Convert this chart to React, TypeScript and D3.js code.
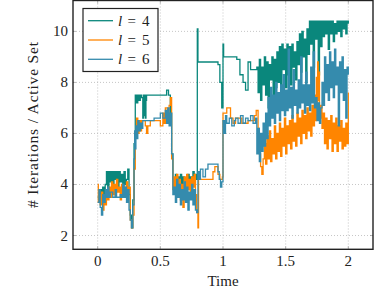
import React from "react";
import * as d3 from "d3";

const xTicks = [0, 0.5, 1, 1.5, 2];
const yTicks = [2, 4, 6, 8, 10];
const seriesNames = ["4", "5", "6"];
const colors = ["#0a877c", "#ff8500", "#358bad"];

const l4: [number, number][] = [
  [0,3.5],[0.01,3.3],[0.02,3.8],[0.03,3.4],[0.04,3.9],[0.05,3.6],[0.06,4.0],[0.07,4.5],[0.08,3.9],[0.09,4.5],[0.1,4.1],[0.11,4.5],[0.12,4.0],[0.13,4.5],[0.14,4.2],[0.15,4.5],[0.16,3.9],[0.17,4.5],[0.18,4.1],[0.19,4.4],[0.2,3.8],[0.21,4.5],[0.22,4.0],[0.23,4.2],[0.24,4.6],[0.25,3.6],[0.26,2.8],[0.27,2.3],[0.28,3.4],[0.29,5.6],[0.3,7.5],[0.31,7.2],[0.32,7.5],[0.33,7.3],[0.34,7.5],[0.35,7.4],[0.36,6.6],[0.365,7.5],[0.37,6.7],[0.375,7.5],[0.38,6.6],[0.385,7.3],[0.39,7.5],[0.55,7.7],[0.565,7.5],[0.58,6.8],[0.59,5.2],[0.6,4.2],
  [0.61,3.9],[0.62,4.4],[0.63,3.8],[0.64,4.3],[0.65,4.0],[0.66,4.4],[0.67,3.9],[0.68,4.3],[0.69,3.7],[0.7,4.2],[0.71,4.0],[0.72,4.4],[0.73,3.8],[0.74,4.3],[0.75,4.1],[0.76,4.5],[0.77,4.0],[0.78,4.4],[0.79,4.2],[0.795,10.1],[0.8,8.8],[0.96,8.7],[0.975,8.0],[0.99,7.0],[1.0,9.5],[1.005,9.0],[1.11,8.9],[1.135,8.3],[1.16,8.0],[1.18,7.7],[1.2,8.8],[1.22,8.5],[1.27,8.6],
  [1.28,7.6],[1.29,8.9],[1.3,7.3],[1.31,8.6],[1.32,7.9],[1.33,9.0],[1.34,7.5],[1.35,8.8],[1.36,7.0],[1.37,8.7],[1.38,8.1],[1.39,9.0],[1.4,7.4],[1.41,8.9],[1.42,7.8],[1.43,9.2],[1.44,8.0],[1.45,9.4],[1.46,7.6],[1.47,9.5],[1.48,8.5],[1.49,9.3],[1.5,7.8],[1.51,9.5],[1.52,8.3],[1.53,9.4],[1.54,7.9],[1.55,9.5],[1.56,8.6],[1.57,9.2],[1.58,8.1],[1.59,9.6],[1.6,8.7],[1.61,9.9],[1.62,8.4],[1.63,10.0],[1.64,9.0],[1.65,9.7],[1.66,8.0],[1.67,10.1],[1.68,9.1],[1.69,10.4],[1.7,9.5],[1.71,10.4],[1.72,8.6],[1.73,10.4],[1.74,9.7],[1.75,10.4],[1.76,8.3],[1.77,10.4],[1.78,9.4],[1.79,10.4],[1.8,9.8],[1.81,10.4],[1.82,9.9],[1.83,10.4],[1.84,9.3],[1.85,10.4],[1.86,9.9],[1.87,10.4],[1.88,9.6],[1.89,10.3],[1.9,9.9],[1.91,10.4],[1.92,10.0],[1.93,10.4],[1.94,9.8],[1.95,10.4],[1.96,10.1],[1.97,10.4],[1.98,9.9],[1.99,10.4],[2.0,10.3],
];

const l5: [number, number][] = [
  [0,4.0],[0.005,3.3],[0.01,3.6],[0.02,3.2],[0.03,3.7],[0.04,3.0],[0.05,3.5],[0.06,3.2],[0.07,3.8],[0.08,3.4],[0.09,3.9],[0.1,3.5],[0.11,4.1],[0.12,3.6],[0.13,4.0],[0.14,3.5],[0.15,4.2],[0.16,3.7],[0.17,3.9],[0.18,3.4],[0.19,4.0],[0.2,3.6],[0.21,3.9],[0.22,3.5],[0.23,4.1],[0.24,3.7],[0.25,3.9],[0.26,2.6],[0.27,2.3],[0.28,2.8],[0.29,4.6],[0.3,6.0],[0.31,6.6],[0.32,6.0],[0.33,6.5],[0.34,6.1],[0.35,6.5],[0.38,6.3],[0.39,6.0],[0.4,6.3],[0.42,6.5],[0.5,6.3],[0.52,6.8],[0.53,6.4],[0.54,7.0],[0.555,6.4],[0.57,7.1],[0.58,7.4],[0.59,5.0],[0.6,3.8],
  [0.61,4.3],[0.62,3.9],[0.63,4.4],[0.64,3.6],[0.65,4.2],[0.66,3.4],[0.67,4.0],[0.68,3.1],[0.69,4.3],[0.7,3.7],[0.71,4.4],[0.72,3.8],[0.73,4.2],[0.74,3.5],[0.75,4.3],[0.76,3.9],[0.77,4.4],[0.78,3.6],[0.79,2.9],[0.8,2.3],[0.805,4.2],[0.92,4.5],[0.935,4.7],[0.96,4.4],[0.975,4.2],[0.995,4.3],[1.0,6.8],[1.03,7.0],[1.06,6.6],[1.08,6.4],[1.1,6.6],[1.15,6.4],[1.2,6.5],[1.25,6.7],[1.265,6.9],[1.28,6.2],[1.29,5.2],[1.3,4.7],[1.31,4.4],[1.32,5.0],
  [1.33,5.6],[1.34,4.8],[1.35,5.9],[1.36,5.0],[1.37,6.1],[1.38,4.9],[1.39,5.8],[1.4,5.2],[1.41,6.3],[1.42,5.0],[1.43,6.0],[1.44,5.3],[1.45,6.4],[1.46,5.1],[1.47,6.2],[1.48,5.5],[1.49,6.6],[1.5,5.2],[1.51,6.3],[1.52,5.6],[1.53,6.5],[1.54,5.4],[1.55,6.7],[1.56,5.7],[1.57,6.4],[1.58,5.5],[1.59,6.8],[1.6,5.9],[1.61,6.6],[1.62,5.6],[1.63,6.9],[1.64,6.0],[1.65,6.7],[1.66,5.8],[1.67,7.0],[1.68,6.1],[1.69,6.8],[1.7,5.9],[1.71,7.1],[1.72,6.3],[1.73,7.5],[1.74,6.5],[1.745,8.2],[1.75,7.0],[1.755,8.8],[1.76,7.3],[1.765,8.4],[1.77,6.6],[1.78,7.1],[1.79,6.2],[1.8,6.8],[1.81,5.6],[1.82,6.6],[1.83,5.4],[1.84,6.5],[1.85,5.8],[1.86,6.7],[1.87,5.3],[1.88,6.4],[1.89,5.6],[1.9,6.6],[1.91,5.3],[1.92,6.3],[1.93,5.7],[1.94,6.5],[1.95,5.4],[1.96,6.2],[1.97,5.5],[1.98,6.4],[1.99,5.6],[2.0,7.6],
];

const l6: [number, number][] = [
  [0,3.3],[0.01,3.8],[0.02,3.1],[0.03,2.8],[0.04,3.6],[0.05,3.3],[0.06,3.8],[0.07,3.5],[0.08,3.9],[0.09,3.5],[0.1,3.7],[0.12,3.5],[0.14,3.8],[0.15,3.5],[0.18,3.6],[0.19,3.5],[0.2,4.0],[0.21,3.5],[0.22,3.9],[0.23,3.3],[0.24,3.8],[0.25,3.0],[0.26,2.6],[0.27,2.3],[0.28,3.2],[0.29,5.0],[0.295,6.1],[0.3,5.4],[0.305,6.3],[0.31,5.8],[0.32,6.5],[0.33,6.1],[0.34,6.4],[0.35,6.2],[0.36,6.5],[0.45,6.6],[0.5,6.8],[0.52,6.6],[0.54,6.9],[0.55,6.4],[0.56,7.0],[0.57,6.3],[0.58,6.8],[0.59,5.2],[0.6,3.6],
  [0.61,3.9],[0.62,3.3],[0.63,4.2],[0.64,3.5],[0.65,4.0],[0.66,3.2],[0.67,3.8],[0.68,3.4],[0.69,4.1],[0.7,3.3],[0.71,3.9],[0.72,3.0],[0.73,3.7],[0.74,3.4],[0.75,4.0],[0.76,3.2],[0.77,3.8],[0.78,3.0],[0.79,2.9],[0.8,4.5],[0.81,4.2],[0.82,4.6],[0.84,4.3],[0.86,4.6],[0.88,4.8],[0.96,4.5],[0.97,4.2],[0.98,3.9],[0.99,4.1],[1.0,6.5],[1.01,6.0],[1.02,6.7],[1.03,6.4],[1.05,6.6],[1.07,6.3],[1.09,6.5],[1.1,6.6],[1.12,6.4],[1.14,6.7],[1.16,6.4],[1.18,6.6],[1.2,6.5],[1.22,6.7],[1.24,6.4],[1.26,6.6],[1.27,5.2],[1.28,6.2],[1.29,4.9],[1.3,6.0],[1.31,5.3],[1.32,6.4],[1.33,5.5],[1.34,6.8],[1.35,5.8],
  [1.36,7.4],[1.37,6.3],[1.38,7.8],[1.39,6.6],[1.4,7.5],[1.41,6.4],[1.42,8.0],[1.43,6.8],[1.44,7.6],[1.45,6.5],[1.46,7.9],[1.47,6.9],[1.48,8.3],[1.49,6.7],[1.5,7.7],[1.51,6.9],[1.52,9.3],[1.53,7.0],[1.54,7.8],[1.55,6.6],[1.56,8.5],[1.57,7.1],[1.58,7.7],[1.59,6.8],[1.6,8.1],[1.61,7.0],[1.62,9.0],[1.63,7.2],[1.64,7.9],[1.65,6.8],[1.66,8.4],[1.67,7.1],[1.68,7.9],[1.69,6.9],[1.7,8.6],[1.71,7.2],[1.72,9.2],[1.73,7.0],[1.74,7.4],[1.75,6.5],[1.76,7.2],[1.77,6.4],[1.78,7.0],[1.79,8.0],[1.8,7.1],[1.81,9.0],[1.82,7.6],[1.83,8.7],[1.84,7.3],[1.85,9.2],[1.86,7.8],[1.87,8.8],[1.88,7.4],[1.89,9.3],[1.9,7.9],[1.91,8.6],[1.92,6.3],[1.93,8.8],[1.94,7.6],[1.95,9.0],[1.96,7.3],[1.97,8.5],[1.98,6.6],[1.99,8.6],[2.0,8.3],
];

const allSeries = [l4, l5, l6];

const W = 374, H = 292;
const L = 73, R = 373, T = 0.5, B = 249.3;
const FONT = "'Liberation Serif', 'Times New Roman', 'DejaVu Serif', 'Noto Serif', serif";

export default function App() {
  const x = d3.scaleLinear().domain([-0.197, 2.197]).range([L, R]);
  const y = d3.scaleLinear().domain([1.46, 11.21]).range([B, T]);
  const line = d3.line<[number, number]>()
    .x(d => x(d[0]))
    .y(d => y(d[1]))
    .curve(d3.curveStepAfter);
  const ts = { fontFamily: FONT };

  return (
    <svg width={W} height={H} style={{ position: "absolute", left: 0, top: 0, background: "#fff", fontFamily: FONT }}>
      <defs>
        <clipPath id="plotclip">
          <rect x={L} y={T} width={R - L} height={B - T} />
        </clipPath>
      </defs>
      {xTicks.map(t => (
        <line key={"gx" + t} x1={x(t)} x2={x(t)} y1={T} y2={B} stroke="#b8b8b8" strokeWidth={0.8} strokeDasharray="1,2" />
      ))}
      {yTicks.map(t => (
        <line key={"gy" + t} x1={L} x2={R} y1={y(t)} y2={y(t)} stroke="#b8b8b8" strokeWidth={0.8} strokeDasharray="1,2" />
      ))}
      <g clipPath="url(#plotclip)">
        {allSeries.map((s, i) => (
          <path key={i} d={line(s) || ""} fill="none" stroke={colors[i]} strokeWidth={1.3} strokeLinejoin="miter" />
        ))}
      </g>
      {xTicks.map(t => (
        <g key={"tx" + t}>
          <line x1={x(t)} x2={x(t)} y1={B} y2={B - 3} stroke="#888" strokeWidth={0.6} />
          <line x1={x(t)} x2={x(t)} y1={T} y2={T + 3} stroke="#888" strokeWidth={0.6} />
          <text x={x(t)} y={266} textAnchor="middle" fontSize={15} fill="#222" style={ts}>{t}</text>
        </g>
      ))}
      {yTicks.map(t => (
        <g key={"ty" + t}>
          <line x1={L} x2={L + 3} y1={y(t)} y2={y(t)} stroke="#888" strokeWidth={0.6} />
          <line x1={R} x2={R - 3} y1={y(t)} y2={y(t)} stroke="#888" strokeWidth={0.6} />
          <text x={68} y={y(t) + 5} textAnchor="end" fontSize={15} fill="#222" style={ts}>{t}</text>
        </g>
      ))}
      <rect x={L} y={T} width={R - L} height={B - T} fill="none" stroke="#222" strokeWidth={1.4} />
      <text x={223} y={286} textAnchor="middle" fontSize={15} fill="#222" style={ts}>Time</text>
      <text transform={`translate(38,${125}) rotate(-90)`} textAnchor="middle" fontSize={15.5} fill="#222" style={ts} textLength={166} lengthAdjust="spacing"># Iterations / Active Set</text>
      <g>
        <rect x={83} y={8.5} width={75} height={63} fill="#fff" stroke="#222" strokeWidth={1.2} />
        {seriesNames.map((n, i) => (
          <g key={n}>
            <line x1={88} x2={113} y1={20.7 + i * 19.3} y2={20.7 + i * 19.3} stroke={colors[i]} strokeWidth={1.3} />
            <text y={25.7 + i * 19.3} fontSize={15} fill="#222" style={ts}>
              <tspan x={118} fontStyle="italic">l</tspan>
              <tspan x={127.5}>=</tspan>
              <tspan x={142}>{n}</tspan>
            </text>
          </g>
        ))}
      </g>
    </svg>
  );
}
